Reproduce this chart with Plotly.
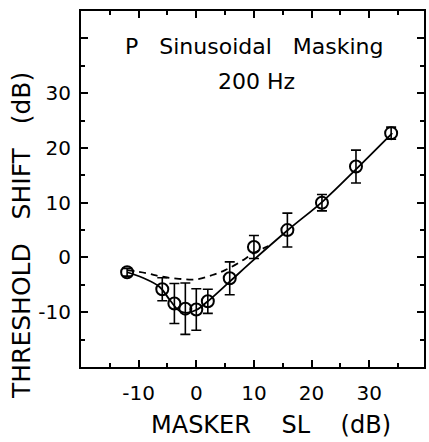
import plotly.graph_objects as go

# Measured data points (masker SL in dB, threshold shift in dB, +/- error)
masker_sl = [-12, -5.9, -3.8, -1.9, 0, 2, 5.8, 10, 15.8, 21.8, 27.7, 33.8]
threshold_shift = [-2.7, -5.8, -8.4, -9.35, -9.5, -8.0, -3.8, 1.9, 5.0, 10.0, 16.6, 22.7]
error_db = [0.7, 2.1, 3.65, 4.7, 3.8, 2.2, 3.0, 2.1, 3.1, 1.5, 3.0, 1.1]

# Solid fitted curve
solid_x = [-12, -9.3, -6.4, -4.5, -3, -1.8, 0, 2, 5.7, 10, 16, 22, 28, 34]
solid_y = [-2.7, -3.7, -5.35, -7.9, -9.7, -10.1, -9.6, -8.0, -4.5, -0.4, 5.1, 10.3, 16.4, 22.7]

# Dashed curve
dashed_x = [-12, -8.7, -6, -3, 0, 2.8, 5, 7.4, 10, 12.5]
dashed_y = [-2.3, -2.85, -3.5, -3.9, -4.0, -3.2, -2.3, -0.95, 0.8, 2.1]

x_tick_vals = [-20, -10, 0, 10, 20, 30]
x_tick_text = ["", "-10", "0", "10", "20", "30"]
y_tick_vals = [-20, -10, 0, 10, 20, 30, 40]
y_tick_text = ["", "-10", "0", "10", "20", "30", ""]

FONT = "DejaVu Sans"
nb = "\u00a0"

fig = go.Figure()
fig.add_trace(go.Scatter(x=dashed_x, y=dashed_y, mode="lines",
                         line=dict(color="black", width=1.8, dash="7px,5px", shape="spline", smoothing=1.0),
                         hoverinfo="skip", showlegend=False))
fig.add_trace(go.Scatter(x=solid_x, y=solid_y, mode="lines",
                         line=dict(color="black", width=1.8, shape="spline", smoothing=1.0),
                         hoverinfo="skip", showlegend=False))
fig.add_trace(go.Scatter(x=masker_sl, y=threshold_shift, mode="markers",
                         marker=dict(symbol="circle-open", size=12, color="black", line=dict(width=2, color="black")),
                         error_y=dict(type="data", array=error_db, visible=True, color="black", thickness=1.6, width=5),
                         showlegend=False))

fig.update_layout(
    width=429, height=442,
    margin=dict(l=81, r=3, t=11, b=75),
    paper_bgcolor="white", plot_bgcolor="white",
    font=dict(family=FONT, color="black", size=20),
    xaxis=dict(range=[-20, 39.5], tickvals=x_tick_vals, ticktext=x_tick_text,
               ticks="inside", ticklen=7, tickwidth=1.6, tickcolor="black",
               minor=dict(dtick=5, tick0=0, ticks="inside", ticklen=4, tickwidth=1.6, tickcolor="black"),
               showline=True, linewidth=2, linecolor="black", mirror="ticks",
               showgrid=False, zeroline=False, ticklabelstandoff=7,
               tickfont=dict(family=FONT, size=20)),
    yaxis=dict(range=[-20, 45], tickvals=y_tick_vals, ticktext=y_tick_text,
               ticks="inside", ticklen=7, tickwidth=1.6, tickcolor="black",
               minor=dict(dtick=5, tick0=0, ticks="inside", ticklen=4, tickwidth=1.6, tickcolor="black"),
               showline=True, linewidth=2, linecolor="black", mirror="ticks",
               showgrid=False, zeroline=False, ticklabelstandoff=4,
               tickfont=dict(family=FONT, size=20)),
    annotations=[
        dict(text="P" + nb * 3 + "Sinusoidal" + nb * 3 + "Masking", x=10.0, y=38.5, xref="x", yref="y",
             showarrow=False, font=dict(family=FONT, size=22), xanchor="center", yanchor="middle"),
        dict(text="200 Hz", x=10.4, y=32.1, xref="x", yref="y",
             showarrow=False, font=dict(family=FONT, size=22), xanchor="center", yanchor="middle"),
        dict(text="MASKER" + nb * 4 + "SL" + nb * 4 + "(dB)", x=0.553, y=-0.163, xref="paper", yref="paper",
             showarrow=False, font=dict(family=FONT, size=24), xanchor="center", yanchor="middle"),
        dict(text="THRESHOLD" + nb * 3 + "SHIFT" + nb * 3 + "(dB)", x=-0.172, y=0.368, xref="paper", yref="paper",
             showarrow=False, textangle=-90, font=dict(family=FONT, size=25), xanchor="center", yanchor="middle"),
    ],
)

fig.write_html("out.html")
